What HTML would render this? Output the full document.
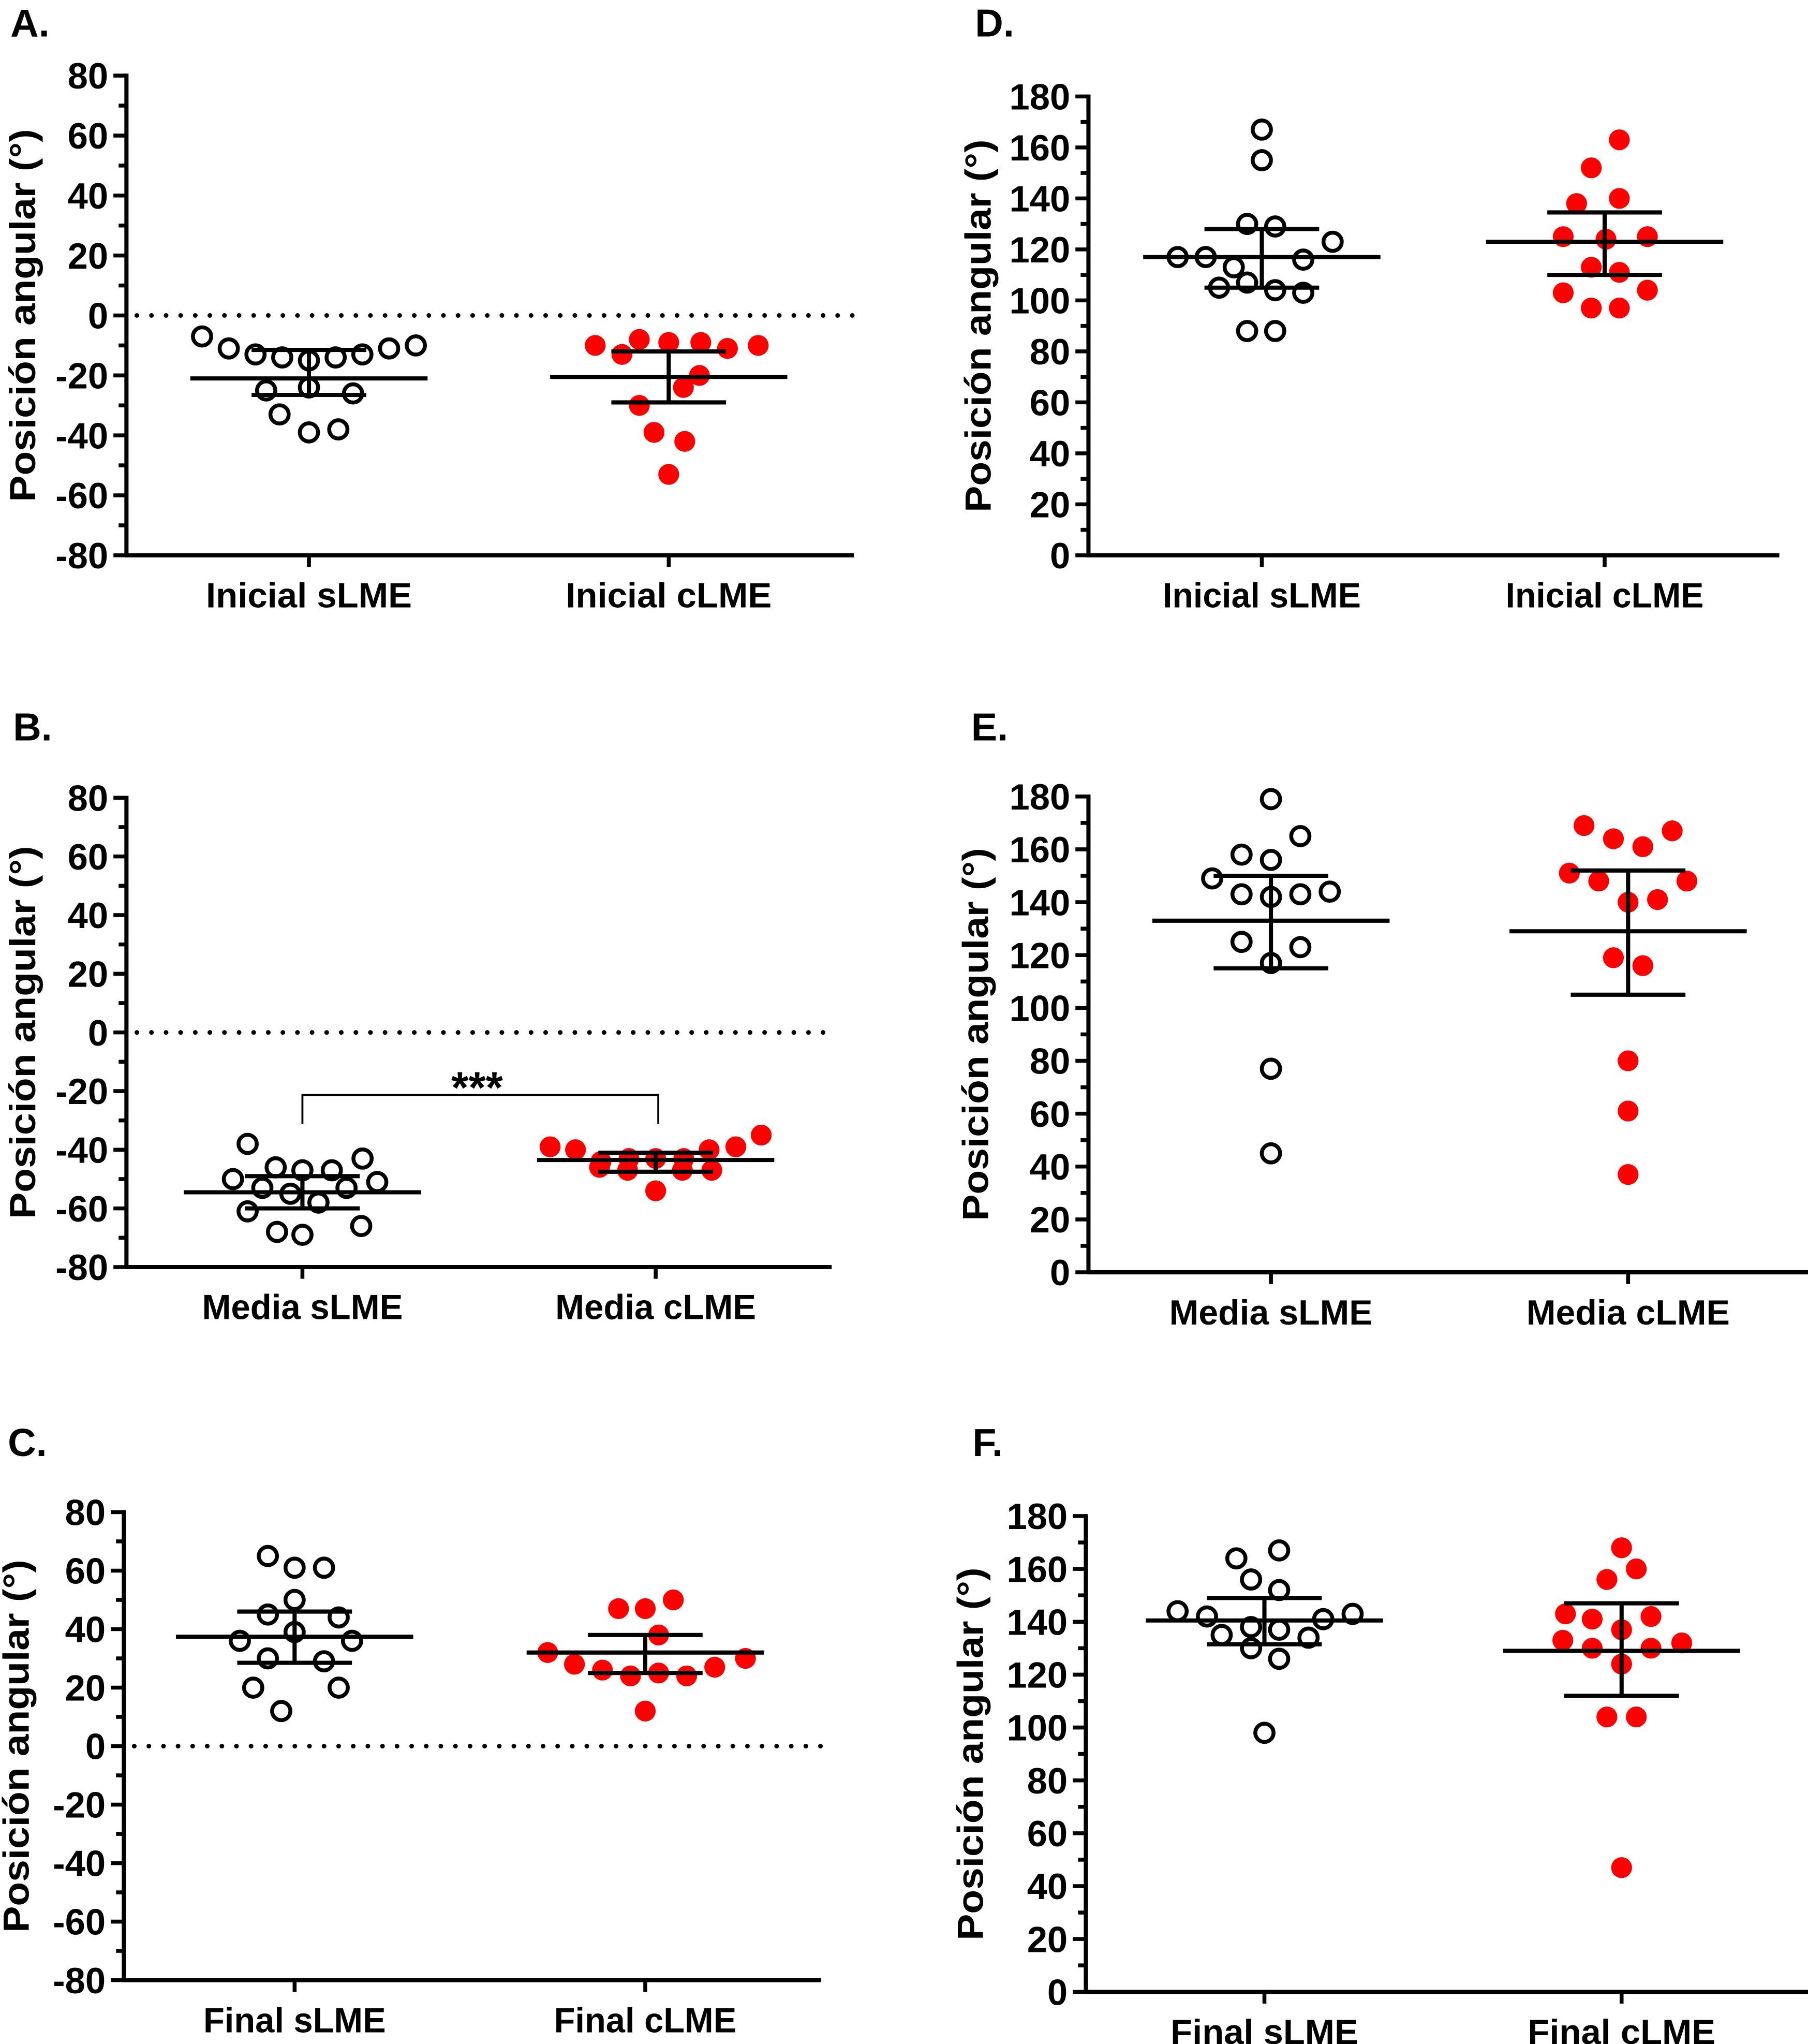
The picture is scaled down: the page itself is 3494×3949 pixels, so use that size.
<!DOCTYPE html>
<html><head><meta charset="utf-8"><style>
html,body{margin:0;padding:0;background:#fff;}
svg{display:block;}
text{font-family:"Liberation Sans",Arial,sans-serif;font-weight:bold;fill:#000;}
</style></head><body>
<svg id="fig" width="3494" height="3949" viewBox="0 0 1387 1568" preserveAspectRatio="none" xmlns="http://www.w3.org/2000/svg"></svg>
<script>
// ---- data (values in degrees; offsets in swarm slots) ----
const aCats = ["Inicial sLME","Inicial cLME"];
const aS_vals = [-7,-11,-13,-14,-15,-14,-13,-11,-10,-25,-24,-26,-33,-38,-39];
const aS_off  = [-4,-3,-2,-1,0,1,2,3,4,-1.6,0,1.65,-1.1,1.1,0];
const aS_stats = [-21,-11.5,-26.5];
const aC_vals = [-10,-13,-8,-9,-9,-11,-10,-20,-24,-30,-39,-42,-53];
const aC_off  = [-2.75,-1.75,-1.1,0,1.2,2.2,3.35,1.15,0.55,-1.1,-0.55,0.6,0];
const aC_stats = [-20.5,-12,-29];

const bCats = ["Media sLME","Media cLME"];
const bS_vals = [-38,-46,-47,-47,-43,-50,-53,-55,-58,-53,-51,-61,-68,-69,-66];
const bS_off  = [-2.05,-1,0,1.1,2.25,-2.6,-1.5,-0.45,0.6,1.65,2.8,-2.05,-0.95,0,2.2];
const bS_stats = [-54.5,-49,-60];
const bC_vals = [-39,-40,-44,-43,-43,-43,-40,-39,-35,-46,-47,-54,-47,-47];
const bC_off  = [-3.95,-3,-2.05,-1,0,1.05,2,3,3.95,-2.1,-1.05,0,1,2.1];
const bC_stats = [-43.5,-41,-47.5];

const cCats = ["Final sLME","Final cLME"];
const cS_vals = [65,61,61,50,45,44,39,36,36,30,29,20,20,12];
const cS_off  = [-1,0,1.1,0,-1,1.65,0,-2.05,2.15,-1,1.1,-1.55,1.65,-0.5];
const cS_stats = [37.4,46,28.5];
const cC_vals = [47,47,50,38,32,28,26,24,25,24,27,30,12];
const cC_off  = [-1,0,1.05,0.5,-3.65,-2.65,-1.6,-0.55,0.5,1.55,2.6,3.75,0];
const cC_stats = [32,38,25];

const dCats = ["Inicial sLME","Inicial cLME"];
const dS_vals = [167,155,130,129,123,117,117,113,116,107,105,104,103,88,88];
const dS_off  = [0,0,-0.55,0.5,2.65,-3.15,-2.1,-1.05,1.55,-0.55,-1.6,0.5,1.55,-0.55,0.5];
const dS_stats = [117,128,105];
const dC_vals = [163,152,140,138,125,125,124,113,111,103,104,97,97];
const dC_off  = [0.55,-0.5,0.55,-1.05,1.6,-1.55,0.05,-0.5,0.55,-1.55,1.6,-0.5,0.55];
const dC_stats = [123,134.5,110];

const eCats = ["Media sLME","Media cLME"];
const eS_vals = [179,165,158,156,149,143,142,143,144,125,123,117,77,45];
const eS_off  = [0,1.1,-1.1,0,-2.2,-1.1,0,1.1,2.2,-1.1,1.1,0,0,0];
const eS_stats = [133,150,115];
const eC_vals = [169,164,161,167,151,148,148,140,141,119,116,80,61,37];
const eC_off  = [-1.65,-0.55,0.55,1.65,-2.2,-1.1,2.2,0,1.1,-0.55,0.55,0,0,0];
const eC_stats = [129,152,105];

const fCats = ["Final sLME","Final cLME"];
const fS_vals = [167,164,156,152,144,142,141,143,135,138,137,134,130,126,98];
const fS_off  = [0.55,-1.05,-0.5,0.55,-3.25,-2.15,2.2,3.3,-1.6,-0.5,0.55,1.65,-0.5,0.55,0];
const fS_stats = [140.5,149,131.5];
const fC_vals = [168,156,160,143,141,142,137,133,132,130,130,124,104,104,47];
const fC_off  = [0,-0.55,0.55,-2.1,-1.1,1.1,0,-2.2,2.25,-1.1,1.1,0,-0.55,0.55,0];
const fC_stats = [129,147,112];

const symTicks = [-80,-60,-40,-20,0,20,40,60,80];
const posTicks = [0,20,40,60,80,100,120,140,160,180];

const NS = "http://www.w3.org/2000/svg";
const svg = document.getElementById("fig");
function mk(tag, attrs, parent){
  const e = document.createElementNS(NS, tag);
  for (const k in attrs) e.setAttribute(k, attrs[k]);
  (parent||svg).appendChild(e);
  return e;
}

function panel(L, cats, sVals, sOff, sStats, cVals, cOff, cStats, ticks){
  const g = mk("g", {});
  
  
  const ymin = ticks[0], ymax = ticks[ticks.length-1];
  const Y = v => L.yb - (v - ymin) / (ymax - ymin) * (L.yb - L.yt);
  const slot = 20.5;
  const pl = mk("text", {x:L.lx, y:L.ly, "font-size":30}, g);
  pl.textContent = L.id.toUpperCase() + ".";
  
  
  const ya = mk("line", {x1:L.ax, y1:L.yt-1.5, x2:L.ax, y2:L.yb+1.5, stroke:"#000","stroke-width":3.2}, g);
  
  
  const step = ticks[1]-ticks[0];
  for (let i=0;i<ticks.length;i++){
    const y = Y(ticks[i]);
    mk("line", {x1:L.ax-10, y1:y, x2:L.ax, y2:y, stroke:"#000","stroke-width":3}, g);
    if (i < ticks.length-1){
      const ym = Y(ticks[i]+step/2);
      mk("line", {x1:L.ax-6, y1:ym, x2:L.ax, y2:ym, stroke:"#000","stroke-width":3}, g);
    }
    const t = mk("text", {x:L.ax-14, y:y+10, "font-size":28, "text-anchor":"end"}, g);
    t.textContent = ticks[i];
    
    
  }
  const xa = mk("line", {x1:L.ax-1.5, y1:L.yb, x2:L.xe, y2:L.yb, stroke:"#000","stroke-width":3.2}, g);
  
  
  const cy = (L.yt + L.yb)/2;
  const yt = mk("text", {x:0, y:0, "font-size":28, "text-anchor":"middle", textLength:286, lengthAdjust:"spacingAndGlyphs", transform:`translate(${L.tx},${cy}) rotate(-90)`}, g);
  yt.textContent = "Posición angular (°)";
  
  
  if (ymin < 0){
    const zl = mk("line", {x1:L.ax+8, y1:Y(0), x2:L.xe, y2:Y(0), stroke:"#000","stroke-width":3.6,"stroke-dasharray":"0 11.2","stroke-linecap":"round"}, g);
    
    
  }
  const groups = [[sVals,sOff,sStats,false],[cVals,cOff,cStats,true]];
  groups.forEach((gr, gi) => {
    const cx = L.cx[gi];
    mk("line", {x1:cx, y1:L.yb, x2:cx, y2:L.yb+9, stroke:"#000","stroke-width":3}, g);
    const cl = mk("text", {x:cx, y:L.yb+40, "font-size":27, "text-anchor":"middle", textLength:L.lw, lengthAdjust:"spacingAndGlyphs"}, g);
    cl.textContent = cats[gi];
    
    
    const [vals, off, st, filled] = gr;
    vals.forEach((v, i) => {
      const c = mk("circle", filled ?
        {cx:cx + off[i]*slot, cy:Y(v), r:8, fill:"#ff0000"} :
        {cx:cx + off[i]*slot, cy:Y(v), r:7, fill:"none", stroke:"#000", "stroke-width":3}, g);
      
      
    });
    const m = mk("line", {x1:cx-91, y1:Y(st[0]), x2:cx+91, y2:Y(st[0]), stroke:"#000","stroke-width":3.2}, g);
    
    
    const eb = mk("path", {d:`M${cx},${Y(st[1])}V${Y(st[2])}M${cx-44},${Y(st[1])}H${cx+44}M${cx-44},${Y(st[2])}H${cx+44}`, stroke:"#000","stroke-width":3.2, fill:"none"}, g);
    
    
  });
  return Y;
}

panel({id:"a", lx:8, ly:28, ax:97, yt:58, yb:426, xe:655, cx:[237,513], tx:27, lw:158}, aCats, aS_vals, aS_off, aS_stats, aC_vals, aC_off, aC_stats, symTicks);
panel({id:"b", lx:10, ly:568, ax:97, yt:612, yb:972, xe:638, cx:[232,503], tx:27, lw:154}, bCats, bS_vals, bS_off, bS_stats, bC_vals, bC_off, bC_stats, symTicks);
panel({id:"c", lx:6, ly:1117, ax:95, yt:1160, yb:1519, xe:630, cx:[226,495], tx:22, lw:140}, cCats, cS_vals, cS_off, cS_stats, cC_vals, cC_off, cC_stats, symTicks);
panel({id:"d", lx:748, ly:28, ax:835, yt:74, yb:426, xe:1365, cx:[968,1231], tx:760, lw:152}, dCats, dS_vals, dS_off, dS_stats, dC_vals, dC_off, dC_stats, posTicks);
panel({id:"e", lx:745, ly:568, ax:835, yt:611, yb:976, xe:1387, cx:[975,1249], tx:758, lw:156}, eCats, eS_vals, eS_off, eS_stats, eC_vals, eC_off, eC_stats, posTicks);
panel({id:"f", lx:746, ly:1117, ax:833, yt:1163, yb:1528, xe:1387, cx:[970,1244], tx:754, lw:144}, fCats, fS_vals, fS_off, fS_stats, fC_vals, fC_off, fC_stats, posTicks);

const br = mk("path", {d:"M232,862V840H505V862", stroke:"#000","stroke-width":1.5, fill:"none"});


const st = mk("text", {x:366, y:846, "font-size":34, "text-anchor":"middle"});
st.textContent = "***";


</script>
</body></html>
